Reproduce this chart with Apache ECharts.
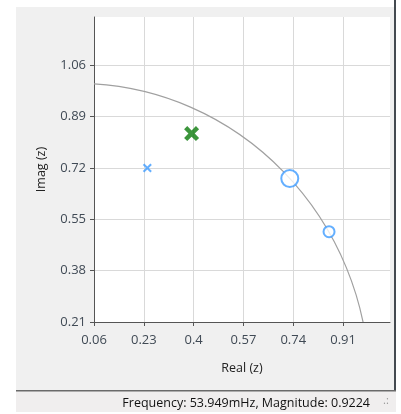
<!DOCTYPE html>
<html><head><meta charset="utf-8">
<script src="https://cdn.jsdelivr.net/npm/echarts@6/dist/echarts.min.js"></script>
<style>html,body{margin:0;padding:0;background:#fff;}#c{width:401px;height:414px;}</style>
</head><body><div id="c"></div>
<script>
// ---- data ----
const xTicks = [0.06, 0.23, 0.4, 0.57, 0.74, 0.91];
const yTicks = [0.21, 0.38, 0.55, 0.72, 0.89, 1.06];
const xRange = [0.06, 1.07];
const yRange = [0.21, 1.22];
const zeros = [[0.242, 0.72]];                 // small blue x
const selectedZero = [[0.393, 0.834]];         // green bold X
const polesLarge = [[0.728, 0.685]];           // large blue circle
const polesSmall = [[0.862, 0.509]];           // small blue circle
const unitCircle = [[0, 0, 1]];                // centre x, centre y, radius
const statusText = 'Frequency: 53.949mHz, Magnitude: 0.9224';

const FONT = '"Open Sans", "DejaVu Sans", sans-serif';
const BLUE = '#3d9bff';
const GREEN = '#0b7a0b';
const xPath = t => `path://M0,${t} L${t},0 L5,${5-t} L${10-t},0 L10,${t} L${5+t},5 L10,${10-t} L${10-t},10 L5,${5+t} L${t},10 L0,${10-t} L${5-t},5 Z`;

const chart = echarts.init(document.getElementById('c'), null, {renderer: 'canvas'});
chart.setOption({
  animation: false,
  backgroundColor: '#ffffff',
  graphic: [
    {type: 'rect', z: -10, shape: {x: 16, y: 7, width: 379, height: 384}, style: {fill: '#f0f0f0'}},
    {type: 'rect', z: -10, shape: {x: 394, y: 0, width: 2, height: 391}, style: {fill: '#444a50'}},
    {type: 'rect', z: -10, shape: {x: 16, y: 391, width: 380, height: 21}, style: {fill: '#f0eeee'}},
    {type: 'rect', z: -10, shape: {x: 16, y: 390, width: 380, height: 1.5}, style: {fill: '#6a6a6a'}},
    {type: 'text', z: 10, style: {text: statusText, x: 370, y: 403, align: 'right', verticalAlign: 'middle',
      font: '12.5px ' + FONT, fill: '#111'}},
    {type: 'text', z: 10, style: {text: '.:', x: 383, y: 401, align: 'left', verticalAlign: 'middle',
      font: '11px ' + FONT, fill: '#999'}}
  ],
  grid: {left: 94, top: 17, right: 11, bottom: 92, show: true, backgroundColor: '#ffffff', borderWidth: 0},
  xAxis: {
    type: 'value', min: xRange[0], max: xRange[1],
    name: 'Real (z)', nameLocation: 'middle', nameGap: 40,
    nameTextStyle: {fontFamily: FONT, fontSize: 12.5, color: '#222'},
    axisLine: {show: true, onZero: false, lineStyle: {color: '#555', width: 1}},
    axisTick: {show: true, length: 4, customValues: xTicks, lineStyle: {color: '#555'}},
    axisLabel: {customValues: xTicks, margin: 12, fontFamily: FONT, fontSize: 13, color: '#404a55',
      formatter: v => String(+v.toFixed(2))},
    splitLine: {show: true, lineStyle: {color: '#d9d9d9', width: 1}}
  },
  yAxis: {
    type: 'value', min: yRange[0], max: yRange[1],
    name: 'Imag (z)', nameLocation: 'middle', nameGap: 46, nameRotate: 90,
    nameTextStyle: {fontFamily: FONT, fontSize: 12.5, color: '#222'},
    axisLine: {show: true, onZero: false, lineStyle: {color: '#555', width: 1}},
    axisTick: {show: true, length: 4, customValues: yTicks, lineStyle: {color: '#555'}},
    axisLabel: {customValues: yTicks, margin: 8, fontFamily: FONT, fontSize: 13, color: '#404a55',
      formatter: v => String(+v.toFixed(2))},
    splitLine: {show: true, lineStyle: {color: '#d9d9d9', width: 1}}
  },
  series: [
    {
      type: 'custom', clip: true, silent: true, z: 2,
      data: unitCircle,
      renderItem: function (params, api) {
        const c = api.coord([api.value(0), api.value(1)]);
        const r = api.value(2);
        const e = api.coord([api.value(0) + r, api.value(1) + r]);
        return {type: 'ellipse', shape: {cx: c[0], cy: c[1], rx: e[0] - c[0], ry: c[1] - e[1]},
          style: {fill: 'none', stroke: '#a0a0a0', lineWidth: 1.2}};
      }
    },
    {type: 'scatter', z: 5, data: zeros, symbol: xPath(1.6), symbolSize: 9, itemStyle: {color: BLUE}},
    {type: 'scatter', z: 6, data: selectedZero, symbol: xPath(2.1), symbolSize: 15, itemStyle: {color: GREEN}},
    {type: 'scatter', z: 5, data: polesLarge, symbol: 'emptyCircle', symbolSize: 17,
      itemStyle: {color: BLUE, borderColor: BLUE, borderWidth: 2}},
    {type: 'scatter', z: 5, data: polesSmall, symbol: 'emptyCircle', symbolSize: 11,
      itemStyle: {color: BLUE, borderColor: BLUE, borderWidth: 2}}
  ]
});
</script></body></html>
